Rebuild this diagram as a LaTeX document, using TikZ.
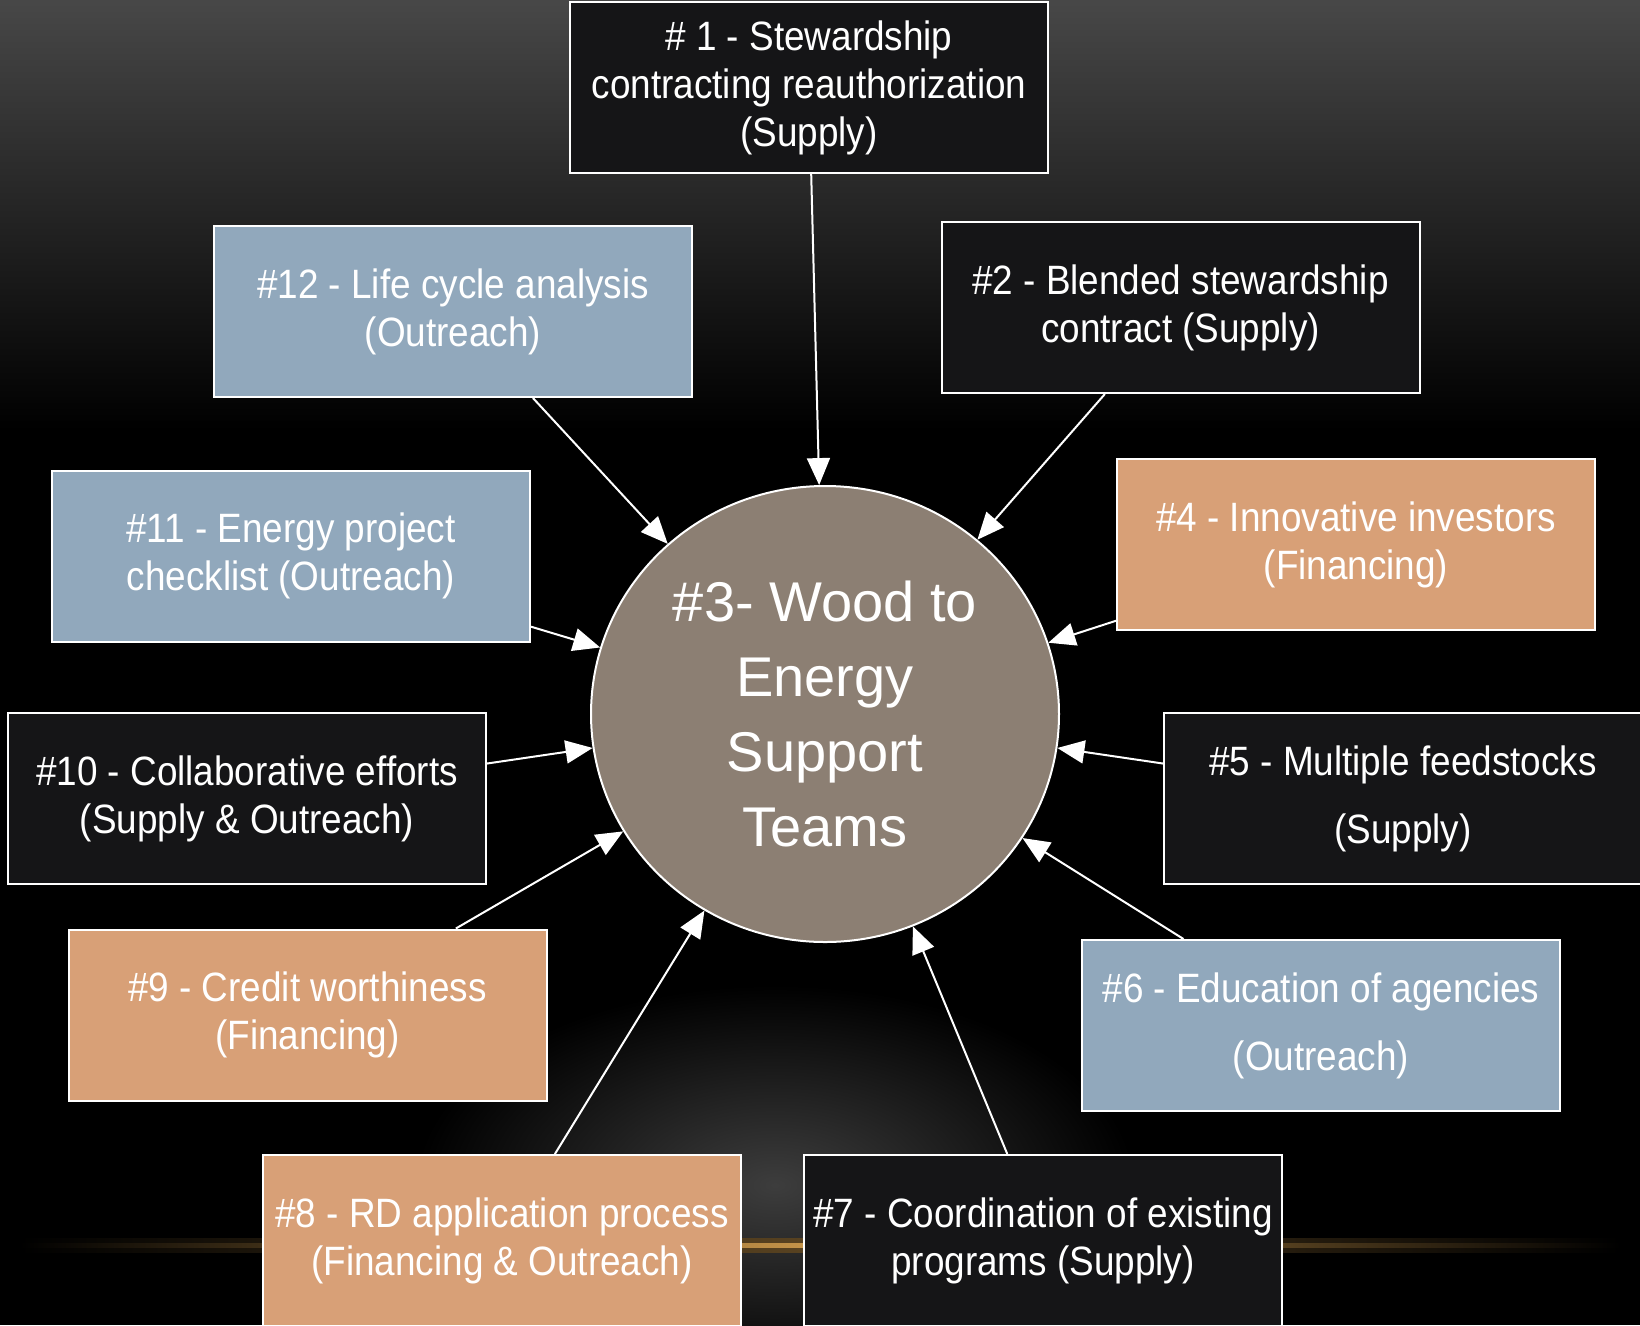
\documentclass[tikz,border=0pt]{standalone}
\usepackage{fontspec}
\setmainfont{Liberation Sans}
\newfontfamily\boxfont[FakeStretch=0.9]{Liberation Sans}
\usetikzlibrary{arrows.meta,shapes.geometric}

\definecolor{supplybox}{HTML}{151517}
\definecolor{outreachbox}{HTML}{91A8BC}
\definecolor{financebox}{HTML}{D8A077}
\definecolor{hubfill}{HTML}{8C7F73}
\definecolor{glowgold}{HTML}{C8964A}

\tikzset{
  card/.style={draw=white, line width=2pt, text=white, align=center, inner sep=0pt,
    minimum width=478pt, minimum height=171pt,
    font=\boxfont\fontsize{41}{48}\selectfont},
  supply/.style={card, fill=supplybox},
  outreach/.style={card, fill=outreachbox},
  financing/.style={card, fill=financebox},
  widelines/.style={font=\boxfont\fontsize{41}{68}\selectfont},
  hub/.style={ellipse, draw=white, line width=2pt, fill=hubfill, text=white, align=center,
    inner sep=0pt, minimum width=468pt, minimum height=456pt,
    font=\fontsize{56}{75}\selectfont},
  feed/.style={draw=white, line width=2pt, -{Triangle[length=27pt,width=23pt]}},
}

\begin{document}
\begin{tikzpicture}[x=1pt,y=-1pt]
    \pgfmathsetmacro{\picwidth}{1640}
    \pgfmathsetmacro{\picheight}{1325}
    \useasboundingbox (0,0) rectangle (\picwidth,\picheight);
    \clip (0,0) rectangle (\picwidth,\picheight);
    % background
    \fill[black] (0,0) rectangle (\picwidth,\picheight);
    \shade[top color=black!72, bottom color=black] (0,0) rectangle (\picwidth,430);
    \shade[inner color=black!76, outer color=black] (775,1185) ellipse (360 and 200);
    \shade[left color=black, right color=black, middle color=glowgold!45!black] (20,1238) rectangle (1620,1252);
    \shade[left color=black, right color=black, middle color=glowgold] (20,1243) rectangle (1620,1247);
    % goal boxes
    \node[supply] (b1) at (809,87.5) {\# 1 - Stewardship\\contracting reauthorization\\(Supply)};
    \node[outreach] (b12) at (453,311.5) {\#12 - Life cycle analysis\\(Outreach)};
    \node[supply] (b2) at (1180.5,307.5) {\#2 - Blended stewardship\\contract (Supply)};
    \node[outreach] (b11) at (291,556) {\#11 - Energy project\\checklist (Outreach)};
    \node[financing] (b4) at (1356,544.5) {\#4 - Innovative investors\\(Financing)};
    \node[supply] (b10) at (247,798.5) {\#10 - Collaborative efforts\\(Supply \& Outreach)};
    \node[supply,widelines] (b5) at (1403,798.5) {\#5 - Multiple feedstocks\\(Supply)};
    \node[financing] (b9) at (307.5,1015) {\#9 - Credit worthiness\\(Financing)};
    \node[outreach,widelines] (b6) at (1321,1025.5) {\#6 - Education of agencies\\(Outreach)};
    \node[financing] (b8) at (502,1240.5) {\#8 - RD application process\\(Financing \& Outreach)};
    \node[supply] (b7) at (1043,1240.5) {\#7 - Coordination of existing\\programs (Supply)};
    % center
    \node[hub] (hub) at (825,714) {\#3- Wood to\\Energy\\Support\\Teams};
    % arrows into the center
    \draw[feed] (b1) -- (hub);
    \draw[feed] (b2) -- (hub);
    \draw[feed] (b4) -- (hub);
    \draw[feed] (b5) -- (hub);
    \draw[feed] (b6) -- (hub);
    \draw[feed] (b7) -- (hub);
    \draw[feed] (b8) -- (hub);
    \draw[feed] (b9) -- (hub);
    \draw[feed] (b10) -- (hub);
    \draw[feed] (b11) -- (hub);
    \draw[feed] (b12) -- (hub);
\end{tikzpicture}
\end{document}
